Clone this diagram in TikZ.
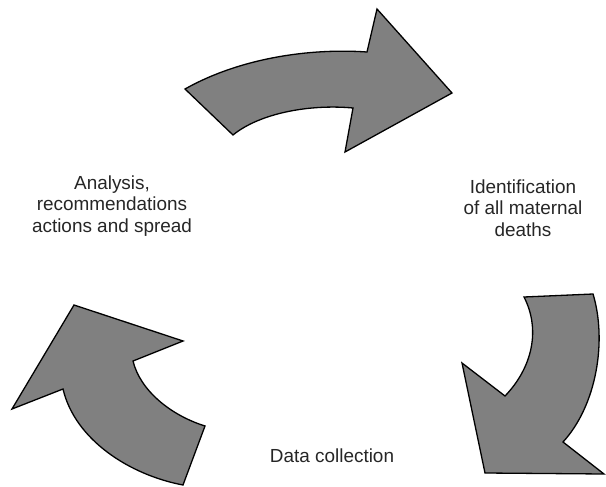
\documentclass[tikz,border=0pt]{standalone}
\usepackage{fontspec}
\setmainfont{Liberation Sans}
\begin{document}
\begin{tikzpicture}[x=1bp,y=-1bp,
  blockarrow/.style={fill=black!50, draw=black, line width=1.3bp, line join=miter},
  label/.style={align=center, font=\fontsize{19}{21.5}\selectfont, text=black!85, inner sep=0pt}]
\useasboundingbox (0,0) rectangle (606,487);
% top arrow
\draw[blockarrow] (185,89) .. controls (240,58) and (310,48) .. (367,52)
  -- (377,9) -- (452,93) -- (345,152) -- (353,108)
  .. controls (310,104) and (260,113) .. (233,135) -- cycle;
% right arrow
\draw[blockarrow] (524,297) -- (593,294)
  .. controls (607,340) and (597,405) .. (563,442)
  -- (604,474) -- (485,473) -- (462,363) -- (505,396)
  .. controls (532,368) and (541,330) .. (524,297) -- cycle;
% left arrow
\draw[blockarrow] (183,485) -- (205,426)
  .. controls (170,415) and (140,390) .. (133,361)
  -- (183,341) -- (74,305) -- (12,409) -- (63,389)
  .. controls (75,440) and (130,475) .. (183,485) -- cycle;
\node[label] (analysis) at (112,206) {Analysis,\\recommendations\\actions and spread};
\node[label] (ident) at (523,208) {Identification\\of all maternal\\deaths};
\node[label] (data) at (332,456) {Data collection};
\end{tikzpicture}
\end{document}
